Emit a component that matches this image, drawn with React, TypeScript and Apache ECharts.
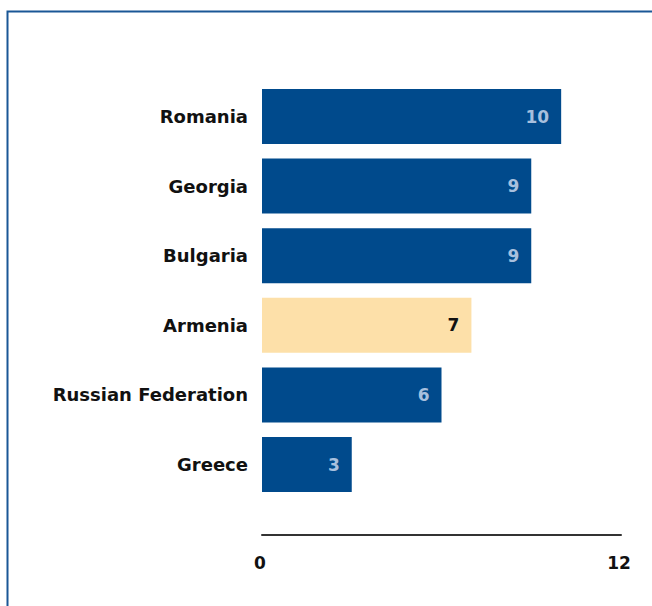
import React, { useEffect, useRef } from "react";
import * as echarts from "echarts";

const categories = ["Romania", "Georgia", "Bulgaria", "Armenia", "Russian Federation", "Greece"];
const values = [10, 9, 9, 7, 6, 3];
const highlight = "Armenia";
const axisMin = 0;
const axisMax = 12;

export default function App() {
  const ref = useRef<HTMLDivElement>(null);
  useEffect(() => {
    const chart = echarts.init(ref.current!, null, { renderer: "svg" });
    const font = "DejaVu Sans";
    chart.setOption({
      animation: false,
      graphic: [
        {
          type: "rect",
          shape: { x: 7.5, y: 11.5, width: 700, height: 700 },
          style: { fill: "none", stroke: "#1a5796", lineWidth: 2 },
          silent: true,
        },
      ],
      grid: { left: 262, right: 31, top: 81.7, bottom: 606 - 499.3, containLabel: false },
      xAxis: {
        type: "value",
        min: axisMin,
        max: axisMax,
        interval: 12,
        offset: 35,
        axisLine: { show: true, lineStyle: { color: "#333", width: 2 } },
        axisTick: { show: false },
        splitLine: { show: false },
        axisLabel: {
          color: "#111",
          fontFamily: font,
          fontWeight: "bold",
          fontSize: 17,
          margin: 20,
          padding: [0, 4, 0, 0],
        },
      },
      yAxis: {
        type: "category",
        data: categories,
        inverse: true,
        axisLine: { show: false },
        axisTick: { show: false },
        axisLabel: {
          color: "#111",
          fontFamily: font,
          fontWeight: "bold",
          fontSize: 18,
          margin: 14,
        },
      },
      series: [
        {
          type: "bar",
          barCategoryGap: "21%",
          data: categories.map((c, i) => ({
            value: values[i],
            itemStyle: { color: c === highlight ? "#fde0a9" : "#004a8c" },
            label: { color: c === highlight ? "#111" : "#a8c0de" },
          })),
          label: {
            show: true,
            position: "insideRight",
            distance: 12,
            fontFamily: font,
            fontWeight: "bold",
            fontSize: 17,
          },
        },
      ],
    });
    return () => chart.dispose();
  }, []);
  return <div ref={ref} style={{ width: 652, height: 606, position: "absolute", left: 0, top: 0 }} />;
}
